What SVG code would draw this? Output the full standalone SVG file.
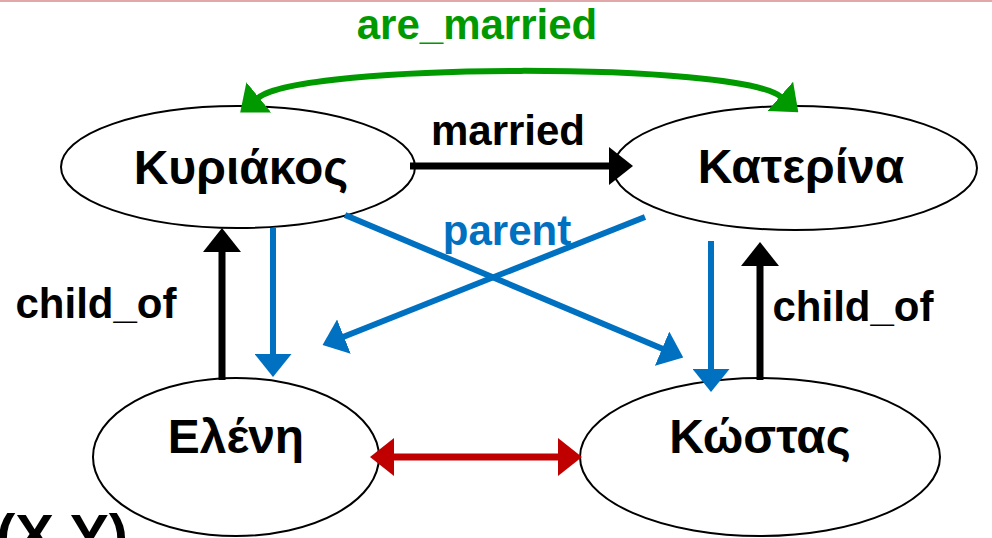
<svg xmlns="http://www.w3.org/2000/svg" width="992" height="538" viewBox="0 0 992 538">
<style>
.node{fill:#fff;stroke:#000;stroke-width:2}
.nt{font-family:"Liberation Sans",Arial,sans-serif;font-weight:bold;font-size:48px;text-anchor:middle;fill:#000}
.lbl{font-family:"Liberation Sans",Arial,sans-serif;font-weight:bold;font-size:42px;text-anchor:middle}
.blk{stroke:#000;stroke-width:7;fill:none}
.blu{stroke:#0070C0;stroke-width:6;fill:none}
.red{stroke:#C00000;stroke-width:7;fill:none}
.grn{stroke:#009900;stroke-width:6;fill:none}
</style>
<defs>
<marker id="ak" viewBox="0 0 24 38" refX="1" refY="19" markerWidth="24" markerHeight="38" orient="auto-start-reverse" markerUnits="userSpaceOnUse"><path d="M0,0L24,19L0,38z" fill="#000"/></marker>
<marker id="ab" viewBox="0 0 23 37" refX="1" refY="18.5" markerWidth="23" markerHeight="37" orient="auto-start-reverse" markerUnits="userSpaceOnUse"><path d="M0,0L23,18.5L0,37z" fill="#0070C0"/></marker>
<marker id="ar" viewBox="0 0 24 38" refX="1" refY="19" markerWidth="24" markerHeight="38" orient="auto-start-reverse" markerUnits="userSpaceOnUse"><path d="M0,0L24,19L0,38z" fill="#C00000"/></marker>
<marker id="ag" viewBox="0 0 24 39" refX="1" refY="19.5" markerWidth="24" markerHeight="39" orient="auto-start-reverse" markerUnits="userSpaceOnUse"><path d="M0,0L24,19.5L0,39z" fill="#009900"/></marker>
</defs>
<rect x="0" y="0" width="992" height="2" fill="#E0A8A8"/>
<g id="n-kyriakos"><ellipse class="node" cx="238" cy="167" rx="177" ry="61"/><text class="nt" x="241" y="184">Κυριάκος</text></g>
<g id="n-katerina"><ellipse class="node" cx="795" cy="168" rx="182" ry="62"/><text class="nt" x="801" y="183">Κατερίνα</text></g>
<g id="n-eleni"><ellipse class="node" cx="236" cy="457" rx="143" ry="79"/><text class="nt" x="236" y="453">Ελένη</text></g>
<g id="n-kostas"><ellipse class="node" cx="760" cy="457" rx="180" ry="79"/><text class="nt" x="760" y="453">Κώστας</text></g>
<g id="connectors">
<path class="grn" d="M258,98 C302,62 741,62 781,97" marker-start="url(#ag)" marker-end="url(#ag)"/>
<text class="lbl" x="477" y="39" fill="#009900">are_married</text>
<line class="blk" x1="410" y1="166" x2="610" y2="166" marker-end="url(#ak)"/>
<text class="lbl" x="508" y="145" fill="#000">married</text>
<line class="blk" x1="222" y1="380" x2="222" y2="251" marker-end="url(#ak)"/>
<text class="lbl" x="96" y="318" fill="#000">child_of</text>
<line class="blu" x1="273" y1="228" x2="273" y2="355" marker-end="url(#ab)"/>
<line class="blu" x1="345" y1="215" x2="663" y2="349" marker-end="url(#ab)"/>
<line class="blu" x1="645" y1="217" x2="343" y2="337" marker-end="url(#ab)"/>
<text class="lbl" x="507" y="245" fill="#0070C0">parent</text>
<line class="blu" x1="711" y1="241" x2="711" y2="370" marker-end="url(#ab)"/>
<line class="blk" x1="760" y1="380" x2="760" y2="265" marker-end="url(#ak)"/>
<text class="lbl" x="853" y="321" fill="#000">child_of</text>
<line class="red" x1="393" y1="457" x2="559" y2="457" marker-start="url(#ar)" marker-end="url(#ar)"/>
</g>
<text x="-4" y="555" font-family="Liberation Sans,Arial,sans-serif" font-weight="bold" font-size="58" fill="#000">(X,Y)</text>
</svg>
